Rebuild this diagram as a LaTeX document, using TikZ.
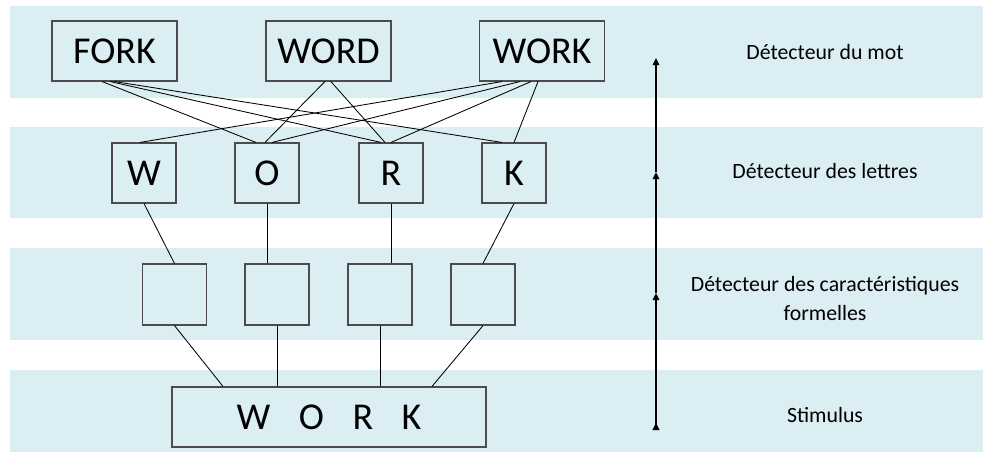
\documentclass[tikz,border=0pt]{standalone}
\usepackage{fontspec}
\setmainfont{Carlito}
\usepackage{tikz}
\usepackage{xcolor}
\usetikzlibrary{arrows.meta}
\definecolor{bandblue}{HTML}{DAEEF3}

\begin{document}
\begin{tikzpicture}[
    every node/.style={font=\fontsize{15.5}{20}\selectfont},
    word/.style={draw=black!70, fill=bandblue, line width=0.8pt,
        minimum width=3.125cm, minimum height=1.5cm,
        font=\fontsize{27}{31}\selectfont},
    letter/.style={word, minimum width=1.6cm},
    feature/.style={letter, minimum height=1.525cm},
    link/.style={line width=0.6pt},
    uptip/.style={-{Triangle[length=1.8mm, width=1.7mm]}, line width=0.9pt}
]
    \useasboundingbox (0,0) rectangle (24.575,11.45);
    \foreach \lo/\hi in {0.15/2.2, 2.95/5.25, 6.0/8.275, 9.0/11.3}
        \fill[bandblue] (0.25,\lo) rectangle (24.575,\hi);

    \node[word] (fork) at (2.8625,10.175) {FORK};
    \node[word] (word) at (8.2125,10.175) {WORD};
    \node[word] (work) at (13.55,10.175) {WORK};

    \node[letter] (w) at (3.6,7.125) {W};
    \node[letter] (o) at (6.675,7.125) {O};
    \node[letter] (r) at (9.775,7.125) {R};
    \node[letter] (k) at (12.85,7.125) {K};

    \node[feature] (f1) at (4.3625,4.0875) {};
    \node[feature] (f2) at (6.925,4.0875) {};
    \node[feature] (f3) at (9.5,4.0875) {};
    \node[feature] (f4) at (12.075,4.0875) {};

    \node[word, minimum width=7.85cm] (stim) at (8.225,1.025)
        {W\hspace{.75em}O\hspace{.75em}R\hspace{.75em}K};

    \draw[link] ([xshift=-0.31cm]fork.south) -- ([xshift=-0.275cm]o.north);
    \draw[link] ([xshift=-0.11cm]fork.south) -- ([xshift=-0.25cm]r.north);
    \draw[link] (fork.south) -- ([xshift=-0.3cm]k.north);
    \draw[link] ([xshift=-0.09cm]word.south) -- ([xshift=-0.05cm]o.north);
    \draw[link] ([xshift=0.06cm]word.south) -- ([xshift=-0.15cm]r.north);
    \draw[link] ([xshift=-1.0cm]work.south) -- ([xshift=-0.1cm]w.north);
    \draw[link] ([xshift=-0.55cm]work.south) -- ([xshift=0.125cm]o.north);
    \draw[link] ([xshift=-0.275cm]work.south) -- (r.north);
    \draw[link] ([xshift=-0.1cm]work.south) -- (k.north);

    \draw[link] (w.south) -- (f1.north);
    \draw[link, line width=0.7pt] (o.south) -- (o.south |- f2.north);
    \draw[link, line width=0.7pt] (r.south) -- (r.south |- f3.north);
    \draw[link] (k.south) -- (f4.north);

    \draw[link] (f1.south) -- ([xshift=-2.65cm]stim.north);
    \draw[link, line width=0.7pt] (f2.south) -- (f2.south |- stim.north);
    \draw[link, line width=0.7pt] (f3.south) -- (f3.south |- stim.north);
    \draw[link] (f4.south) -- ([xshift=2.575cm]stim.north);

    \coordinate (a0) at (16.4,0.7);
    \coordinate (a1) at (16.4,4.125);
    \coordinate (a2) at (16.4,7.15);
    \coordinate (a3) at (16.4,10.0);
    \draw[uptip] (a2) -- (a3);
    \draw[uptip] (a1) -- (a2);
    \draw[line width=0.9pt, {Triangle[reversed, length=1.8mm, width=1.7mm]}-{Triangle[length=1.8mm, width=1.7mm]}] (a0) -- (a1);

    \node (lmot) at (20.625,10.15) {Détecteur du mot};
    \node (llet) at (20.625,7.175) {Détecteur des lettres};
    \node[align=center] (lcar) at (20.625,3.9875)
        {Détecteur des caractéristiques\\formelles};
    \node (lsti) at (20.625,1.075) {Stimulus};
\end{tikzpicture}
\end{document}
